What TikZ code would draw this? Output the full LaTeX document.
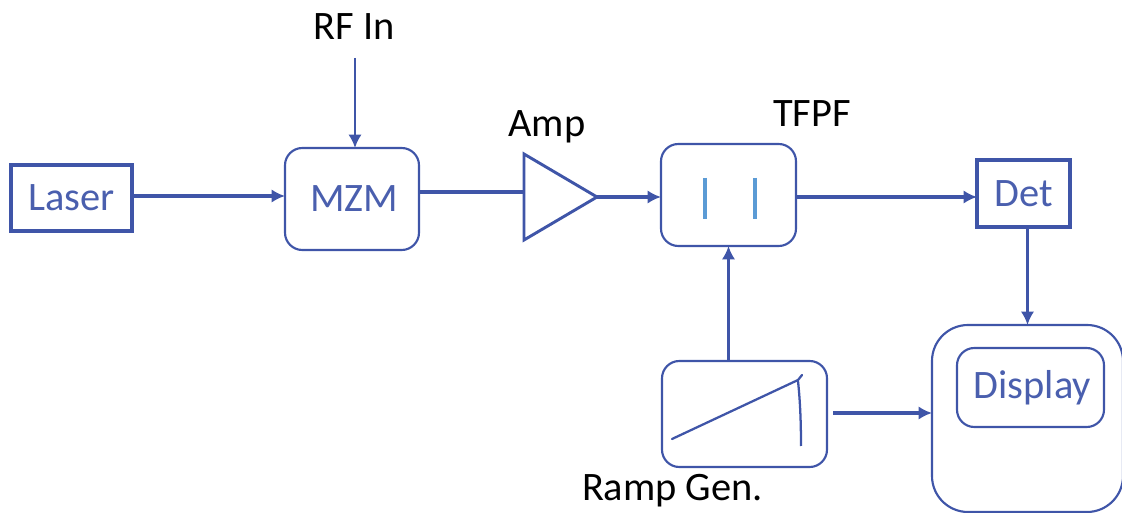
\documentclass[tikz,border=0pt]{standalone}
\usepackage{fontspec}
\setmainfont{Carlito}
\usepackage{tikz}
\usetikzlibrary{shapes.geometric, arrows.meta}
\definecolor{linecol}{HTML}{3F55A8}
\definecolor{textcol}{HTML}{4A5FAE}
\definecolor{platecol}{HTML}{5B9BD5}

\begin{document}
\begin{tikzpicture}[x=0.75pt, y=-0.75pt,
                    every node/.style={inner sep=0pt, outer sep=0pt, text=textcol, font=\fontsize{30.3}{34}\selectfont},
                    sqbox/.style={draw=linecol, line width=2.3pt},
                    rdbox/.style={draw=linecol, line width=1.6pt, rounded corners=13pt},
                    wire/.style={draw=linecol, line width=2.3pt},
                    arr/.style={wire, -{Latex[length=10pt, width=10pt]}},
                    lbl/.style={text=black}]
    \useasboundingbox (0,0) rectangle (1122,513);

    \node[sqbox, minimum width=90.75pt, minimum height=49.5pt] (laser) at (71.5,198) {Laser};
    \node[rdbox, minimum width=100.5pt, minimum height=76.5pt] (mzm) at (352,199) {\hspace*{3pt}MZM};
    \node[draw=linecol, line width=2.2pt, isosceles triangle, isosceles triangle stretches,
          minimum width=64.5pt, minimum height=54.75pt, anchor=apex] (amp) at (597,197) {};
    \node[rdbox, minimum width=101.25pt, minimum height=76.5pt] (tfpf) at (728.5,195) {};
    \node[sqbox, minimum width=69.75pt, minimum height=50.25pt] (det) at (1023.5,193.5) {Det};
    \node[rdbox, minimum width=123.75pt, minimum height=79.5pt] (ramp) at (744.5,414) {};
    \node[rdbox, rounded corners=27pt, minimum width=143.25pt, minimum height=140.25pt] (scope) at (1027.5,418.5) {};
    \node[rdbox, minimum width=110.25pt, minimum height=59.25pt] (display) at (1030.5,387.5) {\hspace*{3pt}Display};

    \node[lbl] (rfin) at (354.5,27) {RF In};
    \node[lbl] (amplbl) at (547,127) {Amp};
    \node[lbl] (tfpflbl) at (812,114) {TFPF};
    \node[lbl] (ramplbl) at (672.5,491) {Ramp Gen.};

    % filter plates
    \foreach \px in {704.7,754.7} {
        \draw[platecol, line width=3pt] (\px,178) -- (\px,219);
    }

    % ramp waveform
    \draw[linecol, line width=1.7pt, line cap=round] (672,439) -- (798,380) -- (802,375);
    \draw[linecol, line width=1.7pt] (798,381) .. controls (800,400) and (801,420) .. (801,446);

    \coordinate (rfstart) at (355,58);
    \coordinate (rampout) at (833,413);
    \coordinate (tfpfout) at (796,197);

    \draw[arr] ([yshift=1.5pt]laser.east) -- ([yshift=1.5pt]laser.east -| mzm.west);
    \draw[arr, line width=2pt] (rfstart) -- (rfstart |- mzm.north);
    \draw[wire] ([yshift=5.25pt]mzm.east) -- ([yshift=5.25pt]mzm.east -| amp.lower side);
    \draw[arr] (amp.apex) -- (amp.apex -| tfpf.west);
    \draw[arr] (tfpfout) -- (tfpfout -| det.west);
    \draw[arr] ([xshift=3pt]det.south) -- ([xshift=3pt]det.south |- scope.north);
    \draw[arr] (ramp.north -| tfpf.south) -- (tfpf.south);
    \draw[arr] (rampout) -- (rampout -| scope.west);
\end{tikzpicture}
\end{document}
